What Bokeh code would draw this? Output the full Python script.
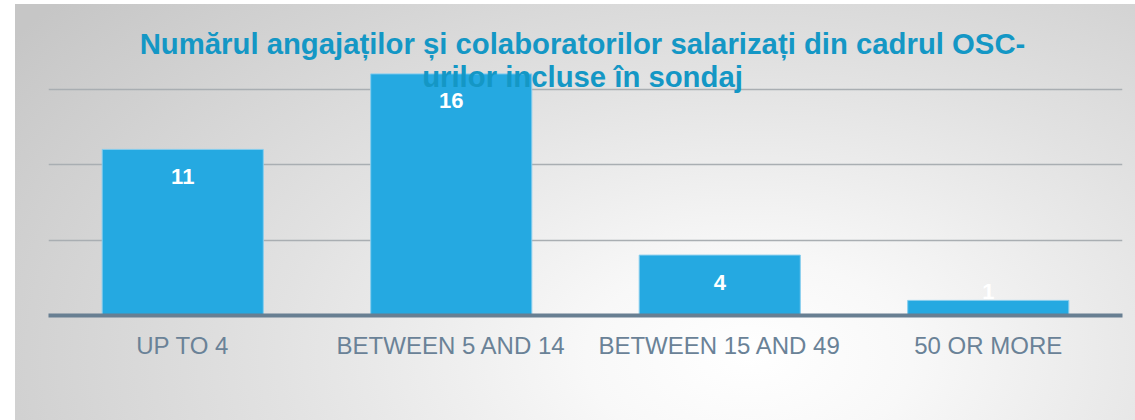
from bokeh.plotting import figure
from bokeh.models import FactorRange, Range1d, FixedTicker, Label, ColumnDataSource
from bokeh.core.properties import value
from bokeh.embed import file_html
from bokeh.resources import INLINE

# ---- data ----
categories = ["UP TO 4", "BETWEEN 5 AND 14", "BETWEEN 15 AND 49", "50 OR MORE"]
counts = [11, 16, 4, 1]
title_lines = ["Numărul angajaților și colaboratorilor salarizați din cadrul OSC-",
               "urilor incluse în sondaj"]

BAR_COLOR = "#25A9E1"
TITLE_COLOR = "#1497C5"
AXIS_TEXT = "#6A8297"

label_offsets = [27 if v >= 2 else -9 for v in counts]
src = ColumnDataSource(dict(cat=categories, val=counts,
                            txt=[str(v) for v in counts], off=label_offsets))

p = figure(x_range=FactorRange(*categories, range_padding=0),
           y_range=Range1d(0, 20),
           width=1135, height=420,
           output_backend="svg", toolbar_location=None,
           min_border_left=48, min_border_right=13,
           min_border_top=13, min_border_bottom=105)

p.background_fill_alpha = 0
p.border_fill_alpha = 0
p.outline_line_color = None
p.styles = {"background": "linear-gradient(to right, #ffffff 15px, rgba(255,255,255,0) 15px), "
                          "linear-gradient(to bottom, #ffffff 4px, rgba(255,255,255,0) 4px), "
                          "radial-gradient(ellipse 80% 130% at 66% 85%, #ffffff 0%, #f8f8f8 18%, "
                          "#e2e2e2 52%, #c6c6c6 100%)"}

p.vbar(x="cat", top="val", width=0.6, source=src,
       fill_color=BAR_COLOR, line_color="#86CDEE", line_width=1)

p.text(x="cat", y="val", text="txt", source=src, y_offset="off",
       text_align="center", text_baseline="middle",
       text_color="white", text_font=value("Liberation Sans"),
       text_font_style="bold", text_font_size="22px")

# axes
p.yaxis.visible = False
p.yaxis.ticker = FixedTicker(ticks=[0, 5, 10, 15, 20])
p.ygrid.grid_line_color = "#A9AEB2"
p.ygrid.grid_line_width = 1.5
p.xgrid.grid_line_color = None

xa = p.xaxis[0]
xa.axis_line_color = "#687F92"
xa.axis_line_width = 4
xa.major_tick_line_color = None
xa.minor_tick_line_color = None
xa.major_label_standoff = 10
xa.major_label_text_font = "Liberation Sans"
xa.major_label_text_font_size = "24px"
xa.major_label_text_color = AXIS_TEXT

# title (two lines, overlapping plot area as in the original)
for line, yv in zip(title_lines, [18.0, 15.85]):
    p.add_layout(Label(x=2.0, y=yv, x_offset=-3, text=line,
                       text_align="center", text_baseline="alphabetic",
                       text_font="Liberation Sans", text_font_style="bold",
                       text_font_size="29.3px", text_color=TITLE_COLOR))

open("out.html", "w").write(file_html(p, INLINE))
